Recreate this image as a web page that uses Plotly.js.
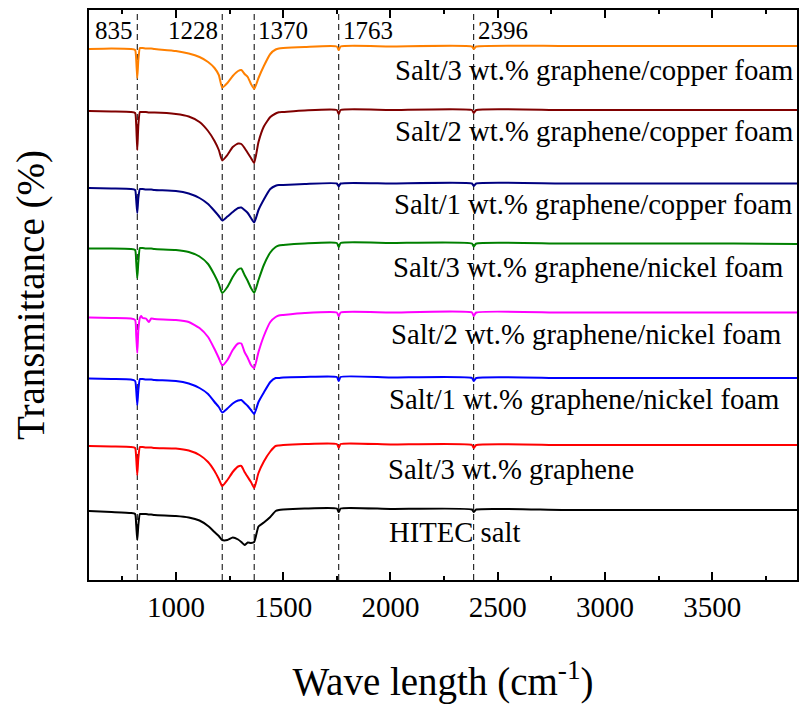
<!DOCTYPE html>
<html>
<head>
<meta charset="utf-8">
<script src="https://cdn.plot.ly/plotly-3.0.1.min.js"></script>
<style>html,body{margin:0;padding:0;background:#fff;}#chart{width:800px;height:706px;}</style>
</head>
<body>
<div id="chart"></div>
<script>
// Wavenumber grid (cm-1) shared by all spectra
const waveNumber = [595, 700, 790, 810, 815, 820, 825, 832, 838, 845, 860, 874, 885, 900, 1000, 1060, 1110, 1150, 1180, 1200, 1216, 1240, 1265, 1290, 1305, 1320, 1335, 1350, 1365, 1385, 1410, 1440, 1465, 1480, 1500, 1600, 1750, 1759, 1768, 2000, 2380, 2388, 2400, 2800, 3200, 3600, 3895];

// Stacked (offset) transmittance, arbitrary units
const cu3 = [531, 531.5, 531, 530, 520, 502, 520, 532, 532, 532, 531.5, 531.5, 531.5, 531, 529, 526.5, 523, 518, 512, 505, 492.5, 497, 504, 509, 510, 506, 503, 496, 491, 502, 514, 526, 530.5, 531.5, 532, 533, 533.5, 530, 533.5, 533.5, 533.5, 531, 533.5, 534, 534, 534, 534];
const cu2 = [469, 468.5, 468, 467, 455, 430, 455, 468, 468, 468, 468, 467.5, 467.5, 467.5, 466, 463.5, 458, 449, 439, 430, 419.5, 425, 433, 436.5, 436, 432, 427, 422, 417, 438, 453.5, 463, 466.5, 467.7, 468, 469.5, 470, 466, 470, 470, 470, 467, 470, 470, 470, 470, 470];
const cu1 = [392, 391.5, 391, 390, 380, 367, 382, 391, 391, 391, 390.5, 390.5, 390.5, 390, 389, 386.5, 382, 376, 369, 364, 359.5, 363.5, 368, 372, 372.5, 370, 367, 362, 357.5, 370, 380.5, 391, 394.3, 395, 395, 396, 396.5, 393.5, 396.5, 396.5, 396.5, 394, 396.5, 396.5, 396.5, 396.5, 396.5];
const ni3 = [331.5, 331.5, 331, 330, 318, 302, 318, 332, 332, 332, 331.5, 331.5, 331.5, 331, 330, 328, 323.5, 316, 305, 296, 287, 293, 303, 310.5, 311.5, 305, 299, 292, 287, 300, 315, 327.5, 333, 334.5, 335, 336.5, 337, 333, 337, 337, 336.5, 333.5, 336.5, 336.5, 336.5, 336.5, 336];
const ni2 = [262.5, 262, 261.5, 260, 245, 227, 250, 262, 264, 262, 261.5, 258, 261.5, 261, 260, 258, 252, 243, 231, 222, 214.5, 220, 230, 236.5, 236.5, 228, 222, 215, 212, 228, 244, 258, 263, 264.5, 265, 267, 267.5, 264, 267.5, 267.5, 267.5, 264, 267.5, 267.5, 267.5, 267.5, 267.5];
const ni1 = [201.5, 201, 200.5, 199, 190, 175, 190, 201, 201, 201, 200.5, 200.5, 200.5, 200, 199, 196.5, 192, 186, 178, 173, 167.5, 171.5, 176.5, 179.5, 180, 177, 174, 170, 166, 178, 187.5, 198, 202, 202, 202.5, 203, 203, 199, 203, 202.5, 202, 199, 202, 202, 202, 202, 202];
const g3 = [134, 133.5, 133, 132, 122, 105, 122, 133, 133, 133, 132.5, 132.5, 132.5, 132, 131.5, 129.5, 125, 118, 109, 101, 94, 100, 108, 113.5, 114, 108, 103, 98, 92, 107, 118.5, 128.5, 134, 134.5, 135, 136, 136, 132.5, 136, 135.5, 135, 132, 135, 135, 135, 135, 135];
const hitec = [69, 68, 67, 66, 55, 40, 55, 66, 66, 66, 66, 65.5, 65.5, 65, 64, 62.5, 59.5, 54, 48, 44, 40, 40, 42.5, 40.5, 38, 35, 37.5, 37, 38, 53.5, 57.5, 63, 69, 70, 70.5, 71.5, 71.5, 68, 71.5, 71, 70.5, 68, 70.5, 70, 70, 70, 70];

const seriesNames = ["Salt/3 wt.% graphene/copper foam", "Salt/2 wt.% graphene/copper foam", "Salt/1 wt.% graphene/copper foam", "Salt/3 wt.% graphene/nickel foam", "Salt/2 wt.% graphene/nickel foam", "Salt/1 wt.% graphene/nickel foam", "Salt/3 wt.% graphene", "HITEC salt"];
const seriesValues = [cu3, cu2, cu1, ni3, ni2, ni1, g3, hitec];
const seriesColors = ["#FF8000", "#800000", "#000080", "#008000", "#FF00FF", "#0000FF", "#FF0000", "#000000"];

// Label positions (wavenumber of left edge, level)
const labelX = [2012, 2012, 2008, 2003, 1994, 1985, 1980, 1985];
const labelY = [510, 449, 376, 313, 246, 181, 111, 48];

// Peak markers
const peakLines = [820, 1216, 1365, 1759, 2388];
const peakLabels = ["835", "1228", "1370", "1763", "2396"];
const peakSide = ["right", "right", "left", "left", "left"];

const serif = "'Liberation Serif', 'Times New Roman', serif";

const traces = seriesValues.map((v, i) => ({
  x: waveNumber, y: v, type: "scatter", mode: "lines", name: seriesNames[i],
  line: {color: seriesColors[i], width: 2, shape: "spline", smoothing: 0.5},
  hoverinfo: "x+name"
}));

const shapes = peakLines.map(p => ({
  type: "line", xref: "x", yref: "paper", x0: p, x1: p, y0: 0, y1: 1,
  line: {color: "#000", width: 1, dash: "6px,4px"}, layer: "below"
}));

const annotations = peakLabels.map((t, i) => ({
  x: peakLines[i], xref: "x", y: 0.964, yref: "paper", text: t, showarrow: false,
  xanchor: peakSide[i], yanchor: "middle", xshift: peakSide[i] === "right" ? -2 : 2,
  font: {family: serif, size: 25, color: "#000"}
})).concat(seriesNames.map((t, i) => ({
  x: labelX[i], xref: "x", y: labelY[i], yref: "y", text: t, showarrow: false,
  xanchor: "left", yanchor: "middle",
  font: {family: serif, size: 28.7, color: "#000"}
})));

const layout = {
  width: 800, height: 706,
  margin: {l: 89, r: 3, t: 10, b: 126},
  paper_bgcolor: "#fff", plot_bgcolor: "#fff",
  showlegend: false,
  font: {family: serif, color: "#000"},
  xaxis: {
    range: [595, 3895], tick0: 0, dtick: 500,
    ticks: "inside", ticklen: 8, tickwidth: 2, tickcolor: "#000",
    minor: {dtick: 250, ticks: "inside", ticklen: 4, tickwidth: 2, tickcolor: "#000"},
    showline: true, linewidth: 2, linecolor: "#000", mirror: "ticks",
    showgrid: false, zeroline: false,
    tickfont: {family: serif, size: 29, color: "#000"},
    title: {text: "Wave length (cm<sup>-1</sup>)", font: {family: serif, size: 39, color: "#000"}, standoff: 46}
  },
  yaxis: {
    range: [0, 570],
    showticklabels: false, ticks: "",
    showline: true, linewidth: 2, linecolor: "#000", mirror: true,
    showgrid: false, zeroline: false,
    title: {text: "Transmittance (%)", font: {family: serif, size: 39, color: "#000"}, standoff: 30}
  },
  shapes: shapes,
  annotations: annotations
};

Plotly.newPlot("chart", traces, layout, {displayModeBar: false, staticPlot: true});
</script>
</body>
</html>
